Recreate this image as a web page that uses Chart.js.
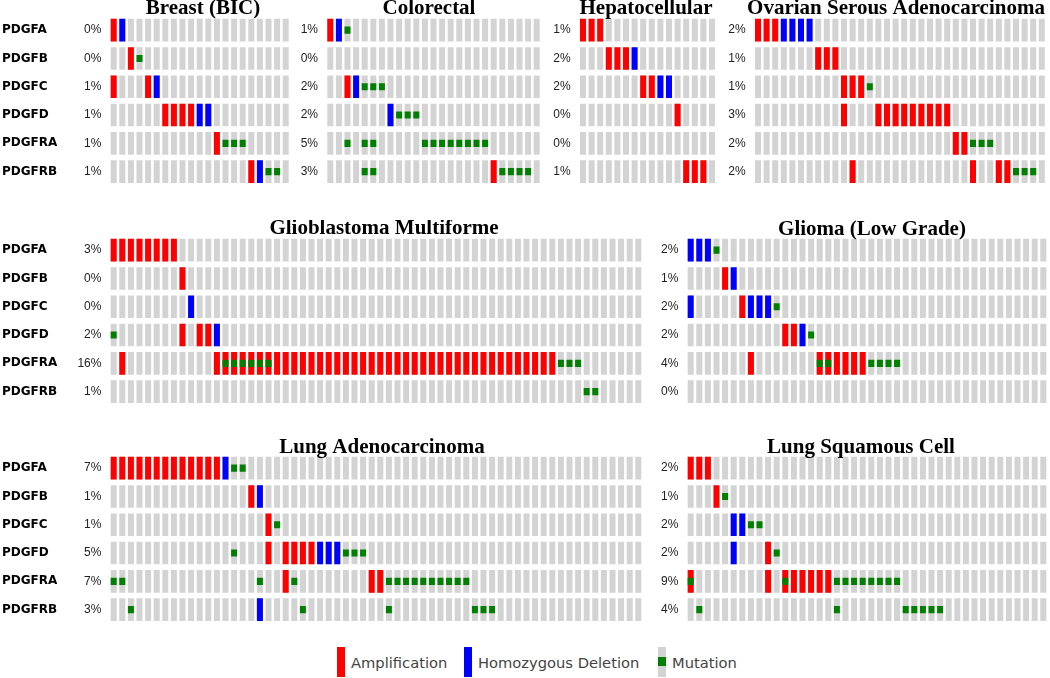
<!DOCTYPE html>
<html>
<head>
<meta charset="utf-8">
<title>PDGF family alterations across cancer types</title>
<script src="https://cdn.jsdelivr.net/npm/chart.js@4.4.1/dist/chart.umd.min.js"></script>
<style>
  body { margin: 0; width: 1050px; height: 678px; background: #fff; position: relative; overflow: hidden; }
  canvas { position: absolute; }
  .legend-item { position: absolute; top: 647px; height: 30px; display: flex; align-items: center;
                 font: 14.7px "DejaVu Sans", Verdana, sans-serif; color: #444; }
  .swatch { width: 8px; height: 30px; margin-right: 6px; position: relative; }
  .swatch.mut { background: #d3d3d3; }
  .swatch.mut::after { content: ''; position: absolute; left: 0; top: 10px; width: 8px; height: 9px; background: #008000; }
</style>
</head>
<body>
<div class="legend-item" style="left:337px"><span class="swatch" style="background:#ff0000"></span>Amplification</div>
<div class="legend-item" style="left:464px"><span class="swatch" style="background:#0000ff"></span>Homozygous Deletion</div>
<div class="legend-item" style="left:658px"><span class="swatch mut"></span>Mutation</div>

<script>
const genes = ['PDGFA', 'PDGFB', 'PDGFC', 'PDGFD', 'PDGFRA', 'PDGFRB'];

// One entry per gene, listing the altered samples (columns, 0-based).
// A = amplification, D = homozygous deletion, M = mutation, B = amplification + mutation.
// "13-18" means samples 13 to 18 all carry that alteration.
const breastEvents = ['A0 D1', 'A2 M3', 'A0 A4 D5', 'A6-9 D10-11', 'A12 M13-15', 'A16 D17 M18-19'];
const breastPct = ['0%', '0%', '1%', '1%', '1%', '1%'];

const colorectalEvents = ['A0 D1 M2', '', 'A2 D3 M4-6', 'D7 M8-10', 'M2 M4-5 M11-18', 'M4-5 A19 M20-23'];
const colorectalPct = ['1%', '0%', '2%', '2%', '5%', '3%'];

const hepatoEvents = ['A0-2', 'A3-5 D6', 'A7-8 D9-10', 'A11', '', 'A12-14'];
const hepatoPct = ['1%', '2%', '2%', '0%', '0%', '1%'];

const ovarianEvents = ['A0-2 D3-6', 'A7-9', 'A10-12 M13', 'A10 A14-22', 'A23-24 M25-27', 'A11 A25 A28-29 M30-32'];
const ovarianPct = ['2%', '1%', '1%', '3%', '2%', '2%'];

const gbmEvents = ['A0-7', 'A8', 'D9', 'M0 A8 A10-11 D12', 'A1 A12 B13-18 A19-51 M52-54', 'M55-56'];
const gbmPct = ['3%', '0%', '0%', '2%', '16%', '1%'];

const gliomaEvents = ['D0-2 M3', 'A4 D5', 'D0 A6 D7-9 M10', 'A11-12 D13 M14', 'A7 B15-16 A17-20 M21-24', ''];
const gliomaPct = ['2%', '1%', '2%', '2%', '4%', '0%'];

const luadEvents = ['A0-12 D13 M14-15', 'A16 D17', 'A18 M19', 'M14 A18 A20-23 D24-26 M27-29',
                    'M0-1 M17 A20 M21 A30-31 M32-41', 'M2 D17 M22 M32 M42-44'];
const luadPct = ['7%', '1%', '1%', '5%', '7%', '3%'];

const luscEvents = ['A0-2', 'A3 M4', 'D5-6 M7-8', 'D5 A9 M10', 'B0 A9 B11 A12-16 M17-24', 'M1 M17 M25-29'];
const luscPct = ['2%', '1%', '2%', '2%', '9%', '4%'];

const PITCH = 8.6;      // px per sample column
const ROW = 29.45;      // px per gene row
const TITLE_SPACE = 16; // px above the grid for the panel title
const CANVAS_H = 193;

const COLORS = { gray: '#d3d3d3', amp: '#ff0000', del: '#0000ff', mut: '#008000' };

const panels = [
  { title: 'Breast (BIC)', events: breastEvents, pct: breastPct, samples: 21, left: 0, top: 0, gridLeft: 109.4, titleX: 203, titleY: 14, genes: true },
  { title: 'Colorectal', events: colorectalEvents, pct: colorectalPct, samples: 25, left: 300, top: 0, gridLeft: 326, titleX: 429, titleY: 14 },
  { title: 'Hepatocellular', events: hepatoEvents, pct: hepatoPct, samples: 16, left: 552, top: 0, gridLeft: 578.7, titleX: 646, titleY: 14 },
  { title: 'Ovarian Serous Adenocarcinoma', events: ovarianEvents, pct: ovarianPct, samples: 34, left: 727, top: 0, gridLeft: 753.7, titleX: 896, titleY: 14 },
  { title: 'Glioblastoma Multiforme', events: gbmEvents, pct: gbmPct, samples: 62, left: 0, top: 220, gridLeft: 109.4, titleX: 384, titleY: 14, genes: true },
  { title: 'Glioma (Low Grade)', events: gliomaEvents, pct: gliomaPct, samples: 42, left: 660, top: 220, gridLeft: 686.4, titleX: 872, titleY: 14.5 },
  { title: 'Lung Adenocarcinoma', events: luadEvents, pct: luadPct, samples: 62, left: 0, top: 438, gridLeft: 109.4, titleX: 382, titleY: 15, genes: true },
  { title: 'Lung Squamous Cell', events: luscEvents, pct: luscPct, samples: 42, left: 660, top: 438, gridLeft: 686.4, titleX: 861, titleY: 15 }
];

// Expand the event strings into one cell code per sample
function parseEvents(list, n) {
  return list.map(str => {
    const cells = new Array(n).fill('');
    str.split(' ').filter(Boolean).forEach(tok => {
      const type = tok[0];
      const [a, b] = tok.slice(1).split('-').map(Number);
      const end = isNaN(b) ? a : b;
      for (let c = a; c <= end; c++) {
        cells[c] += type === 'B' ? 'AM' : type;
      }
    });
    return cells;
  });
}

function barSet(data, color, order) {
  return {
    data: data,
    backgroundColor: color,
    order: order,
    grouped: false,
    borderWidth: 0,
    barPercentage: 0.7,
    categoryPercentage: 1
  };
}

function buildDatasets(cells) {
  const sets = [];
  cells.forEach((row, r) => {
    const full = [r + 0.1, r + 0.9];
    const dot = [r + 0.375, r + 0.625];
    sets.push(barSet(row.map(() => full), COLORS.gray, 3));
    sets.push(barSet(row.map(c => c.includes('A') ? full : null), COLORS.amp, 2));
    sets.push(barSet(row.map(c => c.includes('D') ? full : null), COLORS.del, 2));
    sets.push(barSet(row.map(c => c.includes('M') ? dot : null), COLORS.mut, 1));
  });
  return sets;
}

// Title drawn at a fixed spot above each grid
const panelTitle = {
  id: 'panelTitle',
  afterDraw(chart, args, opts) {
    const ctx = chart.ctx;
    ctx.save();
    ctx.font = 'bold 21px "Liberation Serif", "Times New Roman", serif';
    ctx.fillStyle = '#000';
    ctx.textAlign = 'center';
    ctx.textBaseline = 'alphabetic';
    ctx.fillText(opts.text, opts.x, opts.y);
    ctx.restore();
  }
};

function rowTicks(scale) {
  scale.ticks = genes.map((g, i) => ({ value: i + 0.5 }));
}

function rowAxis(width, extra) {
  return Object.assign({
    type: 'linear',
    position: 'left',
    min: 0,
    max: 6,
    reverse: true,
    grid: { display: false },
    border: { display: false },
    afterBuildTicks: rowTicks,
    afterFit: s => { s.width = width; }
  }, extra);
}

panels.forEach(p => {
  const canvas = document.createElement('canvas');
  const gridWidth = p.samples * PITCH;
  const width = Math.ceil(p.gridLeft + gridWidth - p.left);
  canvas.width = width;
  canvas.height = CANVAS_H;
  canvas.style.left = p.left + 'px';
  canvas.style.top = p.top + 'px';
  document.body.appendChild(canvas);

  const padLeft = p.genes ? 2 : 0;
  const geneWidth = 60;
  const pctWidth = p.gridLeft - p.left - padLeft - (p.genes ? geneWidth : 0);

  const cells = parseEvents(p.events, p.samples);
  const labels = cells[0].map((_, i) => i + 1);

  const scales = {
    x: { type: 'category', display: false },
    y: rowAxis(pctWidth, {
      weight: 0,
      ticks: {
        autoSkip: false,
        padding: 0,
        color: '#222',
        font: { family: '"Liberation Sans", Arial, sans-serif', size: 12 },
        callback: (v, i) => p.pct[i]
      }
    })
  };
  if (p.genes) {
    scales.yGene = rowAxis(geneWidth, {
      weight: 1,
      ticks: {
        autoSkip: false,
        padding: 0,
        crossAlign: 'far',
        color: '#000',
        font: { family: '"DejaVu Sans", Verdana, sans-serif', size: 12, weight: 'bold' },
        callback: (v, i) => genes[i]
      }
    });
  }

  new Chart(canvas, {
    type: 'bar',
    data: { labels: labels, datasets: buildDatasets(cells) },
    plugins: [panelTitle],
    options: {
      responsive: false,
      animation: false,
      events: [],
      layout: {
        padding: {
          top: TITLE_SPACE,
          left: padLeft,
          right: width - (p.gridLeft - p.left + gridWidth),
          bottom: CANVAS_H - TITLE_SPACE - 6 * ROW
        }
      },
      scales: scales,
      plugins: {
        legend: { display: false },
        tooltip: { enabled: false },
        panelTitle: { text: p.title, x: p.titleX - p.left, y: p.titleY }
      }
    }
  });
});
</script>
</body>
</html>
